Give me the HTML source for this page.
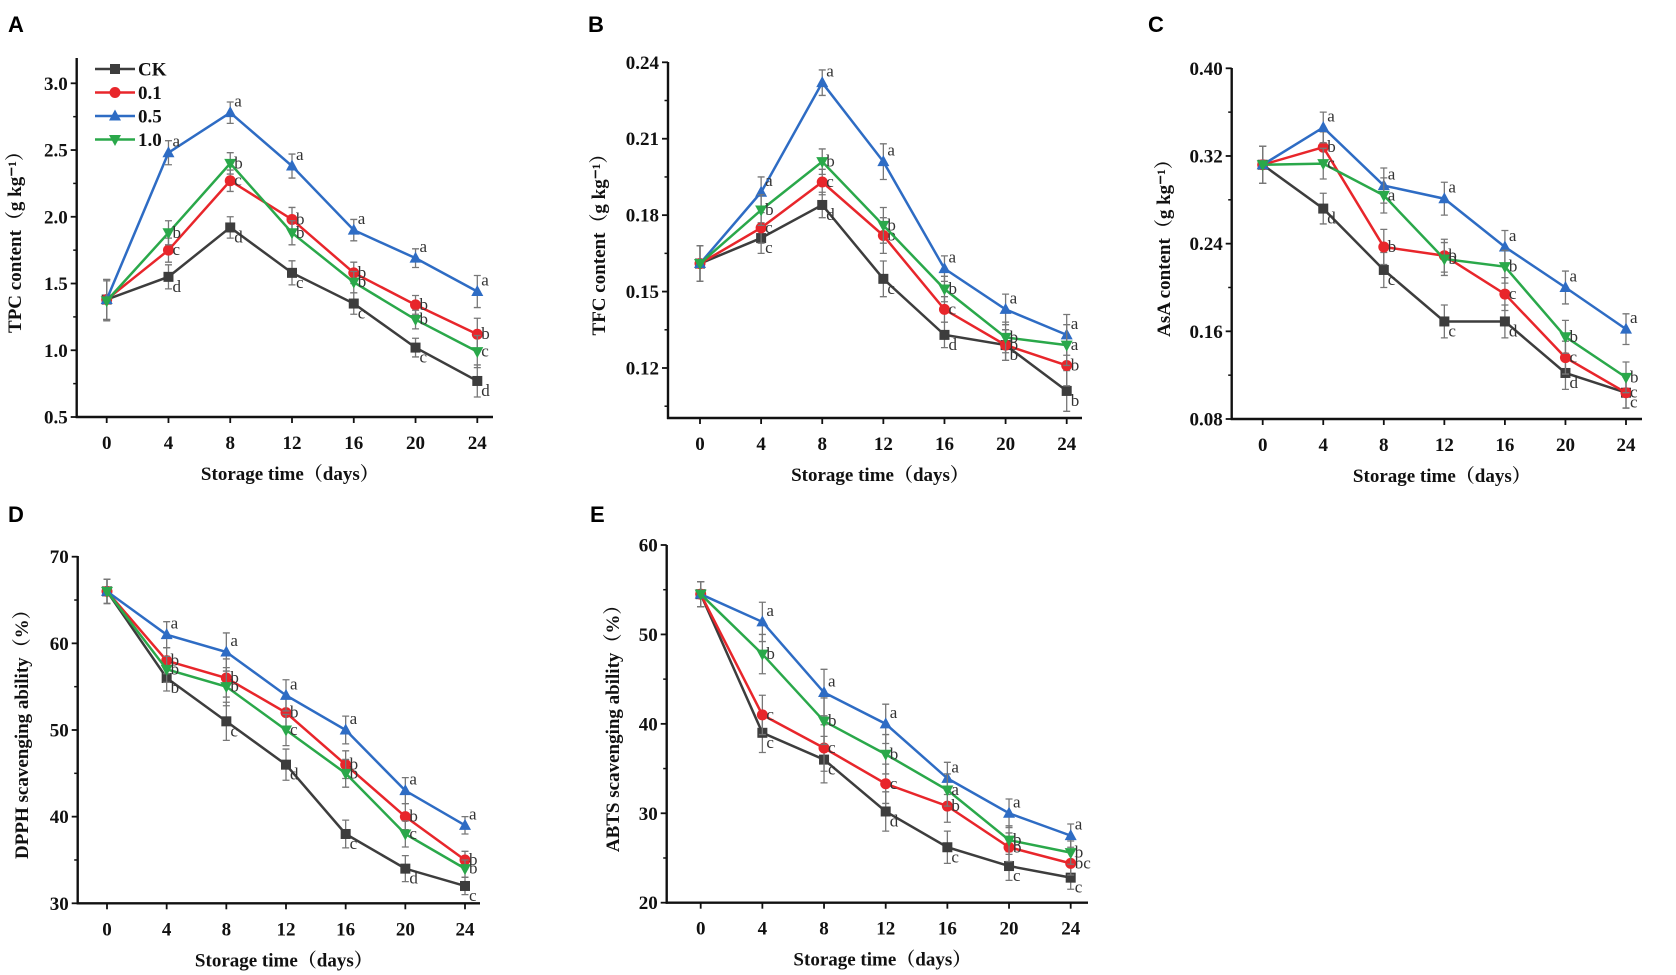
<!DOCTYPE html>
<html><head><meta charset="utf-8"><style>
html,body{margin:0;padding:0;background:#fff;}
svg{display:block;}
.tk{font-family:"Liberation Serif",serif;font-weight:bold;font-size:19px;fill:#111;}
.ttl{font-family:"Liberation Serif","Noto Serif CJK SC",serif;font-weight:bold;font-size:19px;fill:#111;}
.lt{font-family:"Liberation Serif",serif;font-size:17px;fill:#333;}
.pl{font-family:"Liberation Sans",sans-serif;font-weight:bold;font-size:22px;fill:#000;}
</style></head><body>
<svg id="fig" width="1676" height="975" viewBox="0 0 1676 975" xmlns="http://www.w3.org/2000/svg"></svg>
<script>
const days=[0,4,8,12,16,20,24];
const seriesNames=["CK","0.1","0.5","1.0"];
const colors=["#3d3d3d","#e8262b","#2e6cc4","#2aa84a"];
// Panel A TPC
const tpcCK=[1.38,1.55,1.92,1.58,1.35,1.02,0.77];
const tpc01=[1.38,1.75,2.27,1.98,1.58,1.34,1.12];
const tpc05=[1.38,2.48,2.78,2.38,1.90,1.69,1.44];
const tpc10=[1.37,1.88,2.40,1.88,1.51,1.23,0.99];
const tpcErr=[0.15,0.09,0.08,0.09,0.08,0.07,0.12];
const tpcLetters=[["","d","d","c","c","c","d"],["","c","c","b","b","b","b"],["","a","a","a","a","a","a"],["","b","b","b","b","b","c"]];
const tpcTicks=[0.5,1.0,1.5,2.0,2.5,3.0];
// Panel B TFC
const tfcCK=[0.161,0.171,0.184,0.155,0.133,0.129,0.111];
const tfc01=[0.161,0.175,0.193,0.172,0.143,0.129,0.121];
const tfc05=[0.161,0.189,0.232,0.201,0.159,0.143,0.133];
const tfc10=[0.161,0.182,0.201,0.176,0.151,0.132,0.129];
const tfcErr=[0.007,0.006,0.005,0.007,0.005,0.006,0.008];
const tfcLetters=[["","c","d","c","d","b","b"],["","c","c","b","c","b","b"],["","a","a","a","a","a","a"],["","b","b","b","b","b","a"]];
const tfcTicks=[0.12,0.15,0.18,0.21,0.24];
// Panel C AsA
const asaCK=[0.312,0.272,0.216,0.169,0.169,0.122,0.104];
const asa01=[0.312,0.328,0.237,0.229,0.194,0.136,0.104];
const asa05=[0.312,0.346,0.293,0.281,0.237,0.200,0.162];
const asa10=[0.312,0.313,0.284,0.226,0.219,0.155,0.118];
const asaErr=[0.017,0.014,0.016,0.015,0.015,0.015,0.014];
const asaLetters=[["","d","c","c","d","d","c"],["","b","b","b","c","c","c"],["","a","a","a","a","a","a"],["","c","a","b","b","b","b"]];
const asaTicks=[0.08,0.16,0.24,0.32,0.40];
// Panel D DPPH
const dpCK=[66,56,51,46,38,34,32];
const dp01=[66,58,56,52,46,40,35];
const dp05=[66,61,59,54,50,43,39];
const dp10=[66,57,55,50,45,38,34];
const dpErr=[1.4,1.5,2.2,1.8,1.6,1.5,1.0];
const dpLetters=[["","b","c","d","c","d","c"],["","b","b","b","b","b","b"],["","a","a","a","a","a","a"],["","b","b","c","b","c","b"]];
const dpTicks=[30,40,50,60,70];
// Panel E ABTS
const abCK=[54.5,39,36,30.2,26.2,24.1,22.8];
const ab01=[54.5,41,37.3,33.3,30.8,26.2,24.4];
const ab05=[54.5,51.4,43.5,40,33.9,30,27.5];
const ab10=[54.5,47.8,40.3,36.6,32.6,27,25.6];
const abErr=[1.4,2.2,2.6,2.2,1.8,1.6,1.3];
const abLetters=[["","c","c","d","c","c","c"],["","c","c","c","b","b","bc"],["","a","a","a","a","a","a"],["","b","b","b","a","b","b"]];
const abTicks=[20,30,40,50,60];

const NS="http://www.w3.org/2000/svg";
const svg=document.getElementById('fig');
function mk(tag,attrs,parent,text){const e=document.createElementNS(NS,tag);for(const k in attrs)e.setAttribute(k,attrs[k]);if(text!==undefined)e.textContent=text;(parent||svg).appendChild(e);return e;}

const panels=[
 {id:"A",name:"tpc",series:[tpcCK,tpc01,tpc05,tpc10],err:tpcErr,letters:tpcLetters,ticks:tpcTicks,fmt:1,ymin:0.5,ymax:3.0,
  ax:76.7,axTop:58,axBottom:417,yTop:83.3,x0:106.7,x24:477.3,right:493,title:"TPC content（g kg⁻¹）",tx:15,lx:8,ly:32,legend:true,minor:true},
 {id:"B",name:"tfc",series:[tfcCK,tfc01,tfc05,tfc10],err:tfcErr,letters:tfcLetters,ticks:tfcTicks,fmt:2,ymin:0.12,ymax:0.24,
  ax:668,axTop:62,axBottom:418,yTop:62.3,yBot:368,x0:700,x24:1066.7,right:1082,title:"TFC content（g kg⁻¹）",tx:599,lx:588,ly:32,minor:true},
 {id:"C",name:"asa",series:[asaCK,asa01,asa05,asa10],err:asaErr,letters:asaLetters,ticks:asaTicks,fmt:2,ymin:0.08,ymax:0.40,
  ax:1231.7,axTop:68,axBottom:419,yTop:68.3,x0:1262.7,x24:1626,right:1642,title:"AsA content（g kg⁻¹）",tx:1164,lx:1148,ly:32,minor:true},
 {id:"D",name:"dpph",series:[dpCK,dp01,dp05,dp10],err:dpErr,letters:dpLetters,ticks:dpTicks,fmt:0,ymin:30,ymax:70,
  ax:77.7,axTop:556,axBottom:903.3,yTop:556.7,x0:107,x24:465,right:480,title:"DPPH scavenging ability（%）",tx:22,lx:8,ly:522,minor:true},
 {id:"E",name:"abts",series:[abCK,ab01,ab05,ab10],err:abErr,letters:abLetters,ticks:abTicks,fmt:0,ymin:20,ymax:60,
  ax:666.7,axTop:545,axBottom:902.7,yTop:545,x0:700.7,x24:1070.7,right:1088,title:"ABTS scavenging ability（%）",tx:613,lx:590,ly:522,minor:true}
];

function marker(g,i,x,y){
  const c=colors[i];let m;
  if(i===0)m=mk('rect',{x:x-5,y:y-5,width:10,height:10,fill:c},g);
  else if(i===1)m=mk('circle',{cx:x,cy:y,r:5.5,fill:c},g);
  else if(i===2)m=mk('polygon',{points:`${x},${y-6.5} ${x-6},${y+4.5} ${x+6},${y+4.5}`,fill:c},g);
  else m=mk('polygon',{points:`${x},${y+6.5} ${x-6},${y-4.5} ${x+6},${y-4.5}`,fill:c},g);
  
  
}

panels.forEach(p=>{
  const yBot=p.yBot!==undefined?p.yBot:p.axBottom;
  const ys=v=>yBot-(v-p.ymin)/(p.ymax-p.ymin)*(yBot-p.yTop);
  const xs=d=>p.x0+(d-days[0])/(days[days.length-1]-days[0])*(p.x24-p.x0);
  const g=mk('g',{});
  
  
  const lab=mk('text',{x:p.lx,y:p.ly,class:'pl'},g,p.id);
  
  
  const ya=mk('line',{x1:p.ax,y1:p.axTop,x2:p.ax,y2:p.axBottom+1,stroke:'#111','stroke-width':2.4},g);
  
  const xa=mk('line',{x1:p.ax-1,y1:p.axBottom,x2:p.right,y2:p.axBottom,stroke:'#111','stroke-width':2.4},g);
  
  p.ticks.forEach((t,k)=>{
    const y=ys(t);
    mk('line',{x1:p.ax-6,y1:y,x2:p.ax,y2:y,stroke:'#111','stroke-width':1.8},g);
    const tl=mk('text',{x:p.ax-9,y:y+6.5,class:'tk','text-anchor':'end'},g,t.toFixed(p.fmt));
    
    if(p.minor&&k<p.ticks.length-1){const ym=ys((t+p.ticks[k+1])/2);mk('line',{x1:p.ax-3.5,y1:ym,x2:p.ax,y2:ym,stroke:'#111','stroke-width':1.5},g);}
  });
  if(p.minor&&yBot<p.axBottom-10){const st=p.ticks[1]-p.ticks[0];const ym=ys(p.ticks[0]-st/2);mk('line',{x1:p.ax-3.5,y1:ym,x2:p.ax,y2:ym,stroke:'#111','stroke-width':1.5},g);}
  days.forEach(d=>{
    const x=xs(d);
    mk('line',{x1:x,y1:p.axBottom,x2:x,y2:p.axBottom+6,stroke:'#111','stroke-width':1.8},g);
    const tl=mk('text',{x:x,y:p.axBottom+32,class:'tk','text-anchor':'middle'},g,String(d));
    
  });
  const xt=mk('text',{x:(p.ax+p.right)/2+5,y:p.axBottom+63,class:'ttl','text-anchor':'middle'},g,"Storage time（days）");
  
  const cy=(p.axTop+p.axBottom)/2;
  const yt=mk('text',{x:p.tx,y:cy,class:'ttl','text-anchor':'middle',transform:`rotate(-90 ${p.tx} ${cy})`,dy:6},g,p.title);
  
  p.series.forEach((vals,i)=>{
    const sg=mk('g',{},g);
    
    
    vals.forEach((v,j)=>{
      const x=xs(days[j]),y1=ys(v+p.err[j]),y2=ys(v-p.err[j]);
      mk('path',{d:`M${x},${y1}V${y2}M${x-3.5},${y1}H${x+3.5}M${x-3.5},${y2}H${x+3.5}`,stroke:'#777','stroke-width':1.3,fill:'none'},sg);
    });
    const pts=vals.map((v,j)=>xs(days[j])+','+ys(v)).join(' ');
    const ln=mk('polyline',{points:pts,fill:'none',stroke:colors[i],'stroke-width':2.5},sg);
    
    vals.forEach((v,j)=>{
      marker(sg,i,xs(days[j]),ys(v));
      const L=p.letters[i][j];
      if(L){const t=mk('text',{x:xs(days[j])+4,y:ys(v)+(i===0?15:i===2?-6:5),class:'lt'},sg,L);
        }
    });
  });
  if(p.legend){
    const lg=mk('g',{},g);
    
    seriesNames.forEach((n,i)=>{
      const y=69+i*23.5;
      const e=mk('g',{},lg);
      
      mk('line',{x1:95,y1:y,x2:135,y2:y,stroke:colors[i],'stroke-width':2.5},e);
      marker(e,i,115,y);
      mk('text',{x:138,y:y+6.5,class:'tk'},e,n);
    });
  }
});
</script>
</body></html>
